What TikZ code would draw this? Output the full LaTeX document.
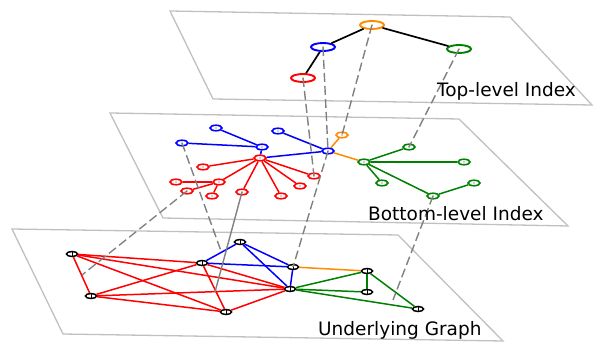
\documentclass[tikz,border=0pt]{standalone}
\usepackage{fontspec}
\setmainfont{DejaVu Sans}
\usetikzlibrary{shapes.geometric}
\definecolor{myorange}{RGB}{255,140,0}
\definecolor{mygreen}{RGB}{0,128,0}
\definecolor{planegray}{RGB}{192,192,192}
\definecolor{linkgray}{RGB}{128,128,128}
\definecolor{dotyellow}{RGB}{230,210,60}
\begin{document}
\begin{tikzpicture}[x=1pt,y=-1pt,
  plane/.style={draw=planegray, line width=1.3pt, line join=miter},
  topnode/.style={ellipse, draw=#1, fill=white, line width=1.9pt, minimum width=24pt, minimum height=8pt, inner sep=0pt},
  midnode/.style={ellipse, draw=#1, fill=white, line width=1.6pt, minimum width=12pt, minimum height=5.5pt, inner sep=0pt},
  botnode/.style={ellipse, draw=black, fill=white, line width=1.5pt, minimum width=11pt, minimum height=5pt, inner sep=0pt},
  tedge/.style={draw=black, line width=1.7pt},
  cedge/.style={draw=#1, line width=1.5pt},
  link/.style={draw=linkgray, line width=1.4pt, dash pattern=on 9pt off 4pt},
  slink/.style={draw=linkgray, line width=1.4pt},
  lbl/.style={anchor=base west, inner sep=0pt, font=\fontsize{18.5}{20}\selectfont}
]
\useasboundingbox (0,0) rectangle (594,342);
% planes
\draw[plane] (170,11) -- (510,17) -- (592,105) -- (213,99) -- cycle;
\draw[plane] (110,113) -- (459,119) -- (568,226) -- (163,218) -- cycle;
\draw[plane] (12,229) -- (398,235) -- (503,341) -- (63,334) -- cycle;

% top nodes
\node[topnode=myorange] (tO) at (372,25) {};
\node[topnode=blue] (tB) at (323,47) {};
\node[topnode=red] (tR) at (303,78) {};
\node[topnode=mygreen] (tG) at (459,49) {};

% middle nodes
\node[midnode=blue] (mb1) at (216,128) {};
\node[midnode=blue] (mb2) at (182,143) {};
\node[midnode=blue] (mb3) at (262,147) {};
\node[midnode=blue] (mb4) at (278,131) {};
\node[midnode=blue] (mbh) at (328,151) {};
\node[midnode=red] (mr0) at (260,158) {};
\node[midnode=red] (mr1) at (203,167) {};
\node[midnode=red] (mr2) at (176,182) {};
\node[midnode=red] (mr3) at (219,182) {};
\node[midnode=red] (mr4) at (187,191) {};
\node[midnode=red] (mr5) at (212,196) {};
\node[midnode=red] (mr6) at (242,192) {};
\node[midnode=red] (mr7) at (281,196) {};
\node[midnode=red] (mr8) at (300,186) {};
\node[midnode=red] (mr9) at (314,176) {};
\node[midnode=myorange] (mo) at (342,135) {};
\node[midnode=mygreen] (mg0) at (364,162) {};
\node[midnode=mygreen] (mg1) at (409,147) {};
\node[midnode=mygreen] (mg2) at (464,162) {};
\node[midnode=mygreen] (mg3) at (382,183) {};
\node[midnode=mygreen] (mg4) at (433,196) {};
\node[midnode=mygreen] (mg5) at (474,183) {};

% bottom nodes
\node[botnode] (bA) at (72,254) {};
\node[botnode] (bB) at (91,296) {};
\node[botnode] (bC) at (202,263) {};
\node[botnode] (bD) at (240,242) {};
\node[botnode] (bE) at (293,267) {};
\node[botnode] (bF) at (290,289) {};
\node[botnode] (bG) at (226,312) {};
\node[botnode] (bH) at (367,271) {};
\node[botnode] (bI) at (367,292) {};
\node[botnode] (bJ) at (418,309) {};

% top edges
\draw[tedge] (tO) -- (tB);
\draw[tedge] (tB) -- (tR);
\draw[tedge] (tO) -- (tG);

% middle edges
\draw[cedge=blue] (mb1) -- (mb3);
\draw[cedge=blue] (mb2) -- (mb3);
\draw[cedge=blue] (mb3) -- (mr0);
\draw[cedge=blue] (mr0) -- (mbh);
\draw[cedge=blue] (mb4) -- (mbh);
\draw[cedge=red] (mr0) -- (mr1);
\draw[cedge=red] (mr0) -- (mr3);
\draw[cedge=red] (mr0) -- (mr6);
\draw[cedge=red] (mr0) -- (mr7);
\draw[cedge=red] (mr0) -- (mr8);
\draw[cedge=red] (mr0) -- (mr9);
\draw[cedge=red] (mr3) -- (mr2);
\draw[cedge=red] (mr3) -- (mr4);
\draw[cedge=red] (mr3) -- (mr5);
\draw[cedge=myorange] (mbh) -- (mo);
\draw[cedge=myorange] (mbh) -- (mg0);
\draw[cedge=mygreen] (mg0) -- (mg1);
\draw[cedge=mygreen] (mg0) -- (mg2);
\draw[cedge=mygreen] (mg0) -- (mg3);
\draw[cedge=mygreen] (mg0) -- (mg4);
\draw[cedge=mygreen] (mg4) -- (mg5);

% bottom edges
\foreach \a/\b in {bA/bB,bA/bC,bA/bF,bA/bG,bB/bC,bB/bF,bB/bG,bC/bF,bC/bG,bG/bF}
  \draw[cedge=red] (\a) -- (\b);
\foreach \a/\b in {bC/bD,bC/bE,bD/bE,bD/bF,bE/bF}
  \draw[cedge=blue] (\a) -- (\b);
\draw[cedge=myorange] (bE) -- (bH);
\foreach \a/\b in {bF/bH,bF/bI,bF/bJ,bH/bI,bH/bJ}
  \draw[cedge=mygreen] (\a) -- (\b);

% centre marks
\foreach \n in {tO,tB,tR,tG}
  \fill[dotyellow] (\n.center) circle (1pt);
\foreach \n in {mb1,mb2,mb3,mb4,mbh,mr0,mr1,mr2,mr3,mr4,mr5,mr6,mr7,mr8,mr9,mo,mg0,mg1,mg2,mg3,mg4,mg5}
  \fill[gray!70] (\n.center) circle (0.9pt);
\foreach \n in {bA,bB,bC,bD,bE,bF,bG,bH,bI,bJ}
  \draw[black, line width=0.9pt] (\n.north) -- (\n.south);

% link end points on the graph
\coordinate (eAB) at (82,275);
\coordinate (eCD) at (221,251);
\coordinate (eCG) at (215,292);
\coordinate (eFJ) at (393,300);

% links
\draw[link] (tR.center) -- (mr9.center);
\draw[link] (tB.center) -- (mbh.center);
\draw[link] (tO.center) -- (mo.center);
\draw[link] (tG.center) -- (mg1.center);
\draw[link] (mb2.center) -- (eCD);
\draw[link] (mr4.center) -- (eAB);
\draw[slink] (mr6.center) -- (eCG);
\draw[link] (mbh.center) -- (bE.center);
\draw[link] (mg4.center) -- (eFJ);

% labels
\node[lbl] (lt) at (437,97) {Top-level Index};
\node[lbl] (lm) at (368,220) {Bottom-level Index};
\node[lbl] (lb) at (318,335) {Underlying Graph};
\end{tikzpicture}
\end{document}
